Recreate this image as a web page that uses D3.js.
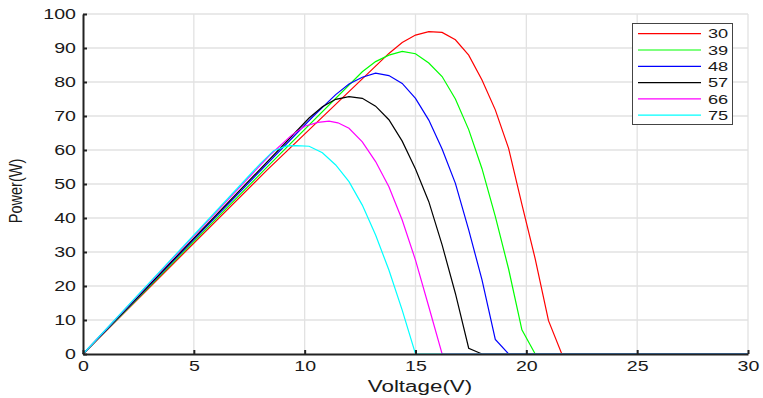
<!DOCTYPE html>
<html><head><meta charset="utf-8">
<script src="https://cdn.jsdelivr.net/npm/d3@7"></script>
<style>
body{margin:0;background:#fff;}
svg{display:block;}
text{font-family:"Liberation Sans",Arial,sans-serif;fill:#1a1a1a;}
</style>
</head><body>
<svg id="c" width="763" height="398"></svg>
<script>
// ---- data ----
const seriesNames = ["30", "39", "48", "57", "66", "75"];
const seriesColors = ["#ff0000", "#00ff00", "#0000ff", "#000000", "#ff00ff", "#00ffff"];
const xTicks = [0, 5, 10, 15, 20, 25, 30];
const yTicks = [0, 10, 20, 30, 40, 50, 60, 70, 80, 90, 100];

const volt30  = [0, 8.3, 13.8, 14.4, 15.0, 15.6, 16.2, 16.8, 17.4, 18.0, 18.6, 19.2, 19.8, 20.4, 21.0, 21.6, 30];
const power30 = [0, 54.1, 88.4, 91.6, 93.8, 94.8, 94.6, 92.4, 87.9, 80.6, 71.8, 60.5, 44, 28, 9.8, 0, 0];

const volt39  = [0, 8.2, 12.6, 13.2, 13.8, 14.4, 15.0, 15.6, 16.2, 16.8, 17.4, 18.0, 18.6, 19.2, 19.8, 20.4, 30];
const power39 = [0, 54.3, 83.0, 86.0, 87.9, 89.0, 88.3, 85.6, 81.6, 75.0, 66.0, 54.5, 40.5, 25.0, 7.1, 0, 0];

const volt48  = [0, 10.4, 11.4, 12.0, 12.6, 13.2, 13.8, 14.4, 15.0, 15.6, 16.2, 16.8, 17.4, 18.0, 18.6, 19.2, 30];
const power48 = [0, 70.0, 76.3, 79.4, 81.4, 82.6, 81.9, 79.6, 75.2, 68.8, 60.3, 50.2, 36.5, 21.8, 4.3, 0, 0];

const volt57  = [0, 10.2, 10.8, 11.4, 12.0, 12.6, 13.2, 13.8, 14.4, 15.0, 15.6, 16.2, 16.8, 17.4, 18.0, 30];
const power57 = [0, 69.4, 72.7, 74.9, 75.7, 75.2, 72.9, 68.9, 62.6, 54.4, 44.8, 32.1, 17.8, 1.7, 0, 0];

const volt66  = [0, 8.4, 9.4, 10.0, 10.6, 11.1, 11.5, 12.0, 12.6, 13.2, 13.8, 14.4, 15.0, 15.6, 16.2, 30];
const power66 = [0, 58.3, 64.3, 67.0, 68.1, 68.5, 68.0, 66.4, 62.4, 56.6, 49.2, 39.4, 27.6, 13.9, 0, 0];

const volt75  = [0, 8.0, 8.6, 9.2, 9.6, 10.2, 10.8, 11.4, 12.0, 12.6, 13.2, 13.8, 14.4, 15.0, 30];
const power75 = [0, 56.0, 59.8, 61.2, 61.3, 61.1, 59.2, 55.6, 50.7, 43.8, 35.0, 24.7, 12.9, 0, 0];

const voltages = [volt30, volt39, volt48, volt57, volt66, volt75];
const powers = [power30, power39, power48, power57, power66, power75];

// ---- layout ----
const SX = 1.4; // horizontal text stretch seen in reference
const svg = d3.select("#c");
const x = d3.scaleLinear().domain([0, 30]).range([83, 748]);
const y = d3.scaleLinear().domain([0, 100]).range([354, 14]);

// grid
const grid = svg.append("g");
grid.selectAll(".gx").data(xTicks.slice(1)).enter().append("line")
  .attr("x1", d => x(d)).attr("x2", d => x(d)).attr("y1", y(0)).attr("y2", y(100))
  .attr("stroke", "#e2e2e2").attr("stroke-width", 1.3);
grid.selectAll(".gy").data(yTicks.slice(1)).enter().append("line")
  .attr("x1", x(0)).attr("x2", x(30)).attr("y1", d => y(d)).attr("y2", d => y(d))
  .attr("stroke", "#e2e2e2").attr("stroke-width", 1.3);

// series
const line = d3.line().x(d => x(d[0])).y(d => y(d[1]));
seriesNames.forEach((n, i) => {
  const pts = voltages[i].map((v, j) => [v, powers[i][j]]);
  svg.append("path").datum(pts).attr("d", line)
    .attr("fill", "none").attr("stroke", seriesColors[i]).attr("stroke-width", 1.2);
});

// axes
const ax = svg.append("g").attr("transform", `translate(0,${y(0)})`)
  .call(d3.axisBottom(x).tickValues(xTicks).tickSizeInner(-4).tickSizeOuter(0));
const ay = svg.append("g").attr("transform", `translate(${x(0)},0)`)
  .call(d3.axisLeft(y).tickValues(yTicks).tickSizeInner(-4).tickSizeOuter(0));
[ax, ay].forEach(g => {
  g.select(".domain").attr("stroke", "#222").attr("stroke-width", 2);
  g.selectAll(".tick line").attr("stroke", "#222").attr("stroke-width", 2);
  g.selectAll(".tick text").attr("font-size", 14).attr("fill", "#1a1a1a")
    .attr("font-family", "'Liberation Sans', Arial, sans-serif")
    .attr("transform", `scale(${SX},1)`);
});
ay.selectAll(".tick text").attr("x", -7 / SX).attr("dy", "0.35em");
ax.selectAll(".tick text").attr("y", 7).attr("dy", "0.71em");

// axis titles
svg.append("text").attr("transform", `translate(420,392) scale(${SX},1)`)
  .attr("text-anchor", "middle").attr("font-size", 16).text("Voltage(V)");
svg.append("text").attr("transform", `translate(22,191) scale(1.25,1) rotate(-90)`)
  .attr("text-anchor", "middle").attr("font-size", 14.5).text("Power(W)");

// legend
const lg = svg.append("g");
lg.append("rect").attr("x", 632.5).attr("y", 23.5).attr("width", 100).attr("height", 101)
  .attr("fill", "#fff").attr("stroke", "#444").attr("stroke-width", 1);
seriesNames.forEach((n, i) => {
  const yy = 33.7 + i * 16.3;
  lg.append("line").attr("x1", 638).attr("x2", 701).attr("y1", yy).attr("y2", yy)
    .attr("stroke", seriesColors[i]).attr("stroke-width", 1.2);
  lg.append("text").attr("transform", `translate(708,${yy}) scale(${SX},1)`)
    .attr("dy", "0.36em").attr("font-size", 13).text(n);
});
</script>
</body></html>
